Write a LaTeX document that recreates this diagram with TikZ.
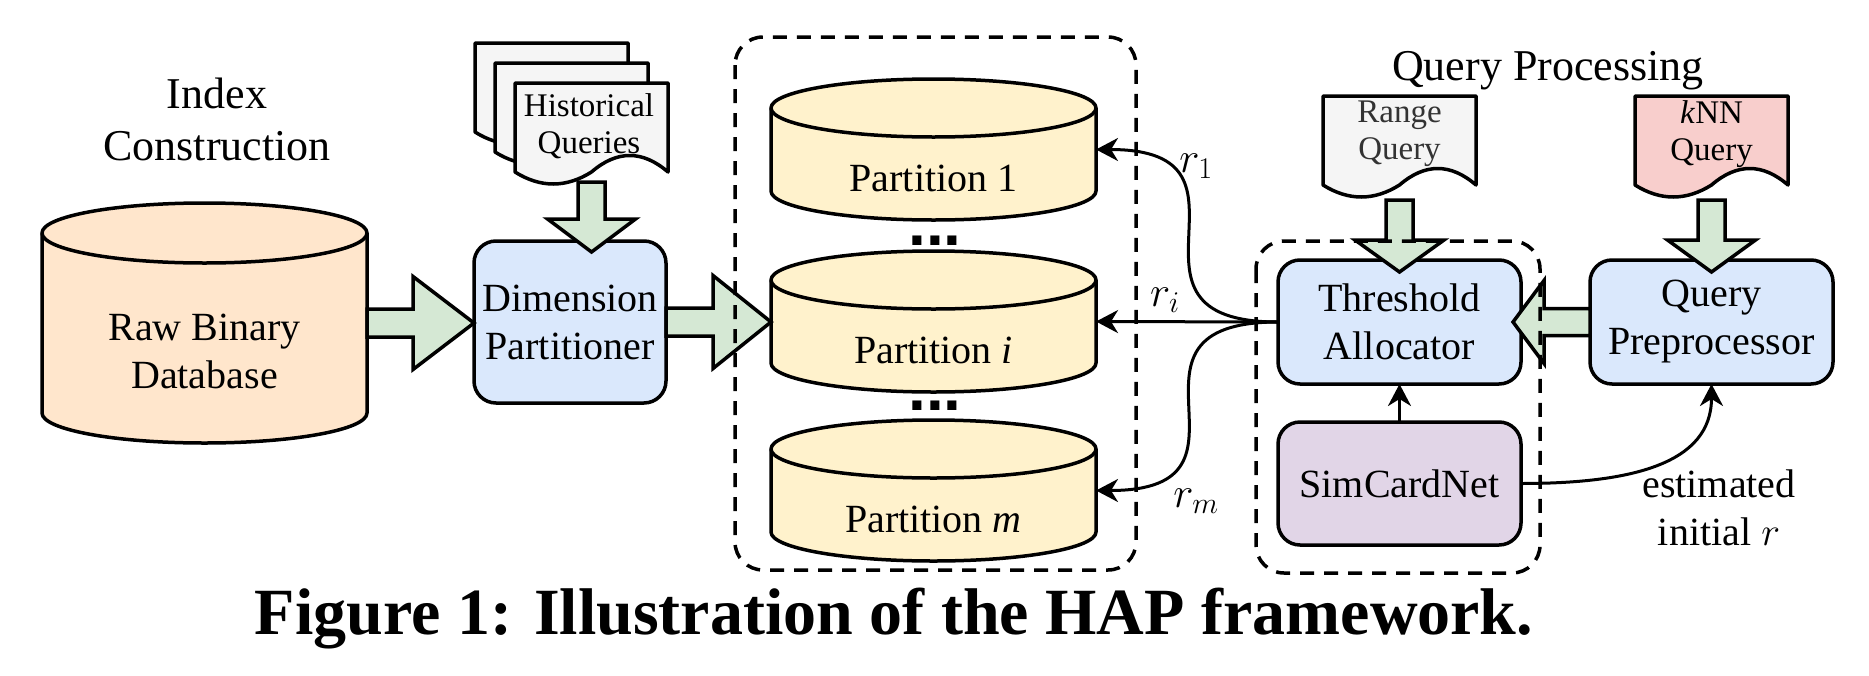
\RequirePackage{fix-cm}
\documentclass[tikz,border=0pt]{standalone}
\usepackage{fontspec}
\setmainfont{Liberation Serif}
\newfontfamily\dotfont{Liberation Sans}
\usetikzlibrary{calc,arrows.meta}
\definecolor{dbfill}{HTML}{FFE6CC}
\definecolor{partfill}{HTML}{FFF2CC}
\definecolor{bluefill}{HTML}{DAE8FC}
\definecolor{purplefill}{HTML}{E1D5E7}
\definecolor{greenfill}{HTML}{D5E8D4}
\definecolor{grayfill}{HTML}{F5F5F5}
\definecolor{pinkfill}{HTML}{F8CECC}
\definecolor{graytext}{HTML}{333333}
\tikzset{
  every node/.style={inner sep=0pt, outer sep=0pt},
  ln/.style={line width=3.5pt, draw=black, line join=round},
  t40/.style={font=\fontsize{40}{48}\selectfont, align=center},
  t44/.style={font=\fontsize{44}{52}\selectfont, align=center},
  t33/.style={font=\fontsize{33}{37}\selectfont, align=center},
  tmath/.style={font=\fontsize{43}{50}\selectfont},
  procbox/.style={ln, rounded corners=22pt, minimum width=243pt, minimum height=124pt, t40},
  fat/.style={ln, fill=greenfill, line join=miter},
  conn/.style={line width=3pt, draw=black, -{Stealth[length=22pt,width=23pt,inset=7pt]}},
  groupbox/.style={line width=3.5pt, draw=black, dash pattern=on 14pt off 10pt, rounded corners=28pt},
  docline/.style={ln},
}
% cylinder: name, cx, top, bottom, rx, ry, fill
\newcommand\cyl[7]{%
  \draw[ln, fill=#7] ({#2-#5},{#3+#6}) -- ({#2-#5},{#4-#6})
     arc[start angle=180,end angle=360,x radius=#5pt,y radius=#6pt]
     -- ({#2+#5},{#3+#6})
     arc[start angle=0,end angle=180,x radius=#5pt,y radius=#6pt] -- cycle;
  \draw[ln] ({#2-#5},{#3+#6}) arc[start angle=180,end angle=360,x radius=#5pt,y radius=#6pt];
  \node[minimum width={2*#5pt}, minimum height={(#4-#3)*1pt}] (#1) at (#2,{(#3+#4)/2}) {};
}
% document shape: x1, top, x2, side end, fill
\newcommand\docshape[5]{%
  \draw[docline, fill=#5] (#1,#2) -- (#3,#2) -- (#3,#4)
    .. controls ({#3-(#3-#1)/6},{#4-22}) and ({#3-(#3-#1)/3},{#4-22}) .. ({(#1+#3)/2},#4)
    .. controls ({(#1+#3)/2-(#3-#1)/6},{#4+16}) and ({#1+(#3-#1)/6},{#4+16}) .. (#1,#4) -- cycle;
}
% fat arrows: from, to, head length, head half width, shaft half width
\newcommand\fatR[5]{%
  \draw[fat] let \p1=(#1), \p2=(#2) in
    (\x1,\y1+#5pt) -- (\x2-#3pt,\y1+#5pt) -- (\x2-#3pt,\y1+#4pt) -- (\x2,\y1)
    -- (\x2-#3pt,\y1-#4pt) -- (\x2-#3pt,\y1-#5pt) -- (\x1,\y1-#5pt) -- cycle;
}
\newcommand\fatL[5]{%
  \draw[fat] let \p1=(#1), \p2=(#2) in
    (\x1,\y1+#5pt) -- (\x2+#3pt,\y1+#5pt) -- (\x2+#3pt,\y1+#4pt) -- (\x2,\y1)
    -- (\x2+#3pt,\y1-#4pt) -- (\x2+#3pt,\y1-#5pt) -- (\x1,\y1-#5pt) -- cycle;
}
\newcommand\fatD[5]{%
  \draw[fat] let \p1=(#1), \p2=(#2) in
    (\x1-#5pt,\y1) -- (\x1-#5pt,\y2+#3pt) -- (\x1-#4pt,\y2+#3pt) -- (\x1,\y2)
    -- (\x1+#4pt,\y2+#3pt) -- (\x1+#5pt,\y2+#3pt) -- (\x1+#5pt,\y1) -- cycle;
}
\begin{document}
\begin{tikzpicture}[x=1pt,y=-1pt]
\useasboundingbox (0,0) rectangle (1869,675);
\fill[white] (0,0) rectangle (1869,675);

% headings
\node[t44] (hdr1) at (217,119) {Index\\Construction};
\node[t44, anchor=base] (hdr2) at (1548,80) {Query Processing};

% raw database
\cyl{db}{204.5}{203}{443}{162.5}{30}{dbfill}
\node[t40] (db-t) at (204.5,351) {Raw Binary\\Database};

% historical queries stack
\docshape{475}{43}{628}{132}{grayfill}
\docshape{495}{63}{648}{152}{grayfill}
\docshape{515}{83}{668}{172}{grayfill}
\node[minimum width=153pt, minimum height=89pt] (hq) at (591.5,127.5) {};
\node[t33] (hq-t) at (589,126) {Historical\\Queries};

% dimension partitioner
\node[procbox, fill=bluefill, minimum width=192pt, minimum height=162pt] (dim) at (570,322) {Dimension\\Partitioner};

% partitions
\cyl{p1}{933.5}{79}{220}{162.5}{29}{partfill}
\node[t40] (p1-t) at (933.5,178.5) {Partition 1};
\cyl{pi}{933.5}{251}{392}{162.5}{29}{partfill}
\node[t40] (pi-t) at (933.5,350.5) {Partition \textit{i}};
\cyl{pm}{933.5}{420}{561}{162.5}{29}{partfill}
\node[t40] (pm-t) at (933.5,519.5) {Partition \textit{m}};
\node[font=\dotfont\bfseries\fontsize{64}{64}\selectfont] (dots1) at (935,241) {...};
\node[font=\dotfont\bfseries\fontsize{64}{64}\selectfont] (dots2) at (935,406) {...};

% query docs
\docshape{1323}{96}{1476}{185}{grayfill}
\node[minimum width=153pt, minimum height=89pt] (rq) at (1399.5,140.5) {};
\node[t33, text=graytext] (rq-t) at (1399.5,134) {Range\\Query};
\docshape{1635}{96}{1788}{185}{pinkfill}
\node[minimum width=153pt, minimum height=89pt] (kq) at (1711.5,140.5) {};
\node[t33] (kq-t) at (1711.5,134) {\textit{k}NN\\Query};

% processing boxes
\node[procbox, fill=bluefill] (ta) at (1399.5,322) {Threshold\\Allocator};
\node[procbox, fill=purplefill, minimum height=123pt] (sc) at (1399.5,483.5) {SimCardNet};
\node[procbox, fill=bluefill] (qp) at (1711.5,322) {Query\\Preprocessor};

% fat arrows
\fatR{db.east}{dim.west}{61}{46.5}{14}
\fatR{dim.east}{pi.west}{58}{46.5}{14}
\fatD{$(hq.south)+(0,10)$}{$(dim.north)+(0,11)$}{33}{44}{13.5}
\fatD{$(rq.south)+(0,15)$}{$(ta.north)+(0,12)$}{32}{44.5}{13.5}
\fatD{$(kq.south)+(0,15)$}{$(qp.north)+(0,12)$}{32}{44}{13.5}
\fatL{qp.west}{$(ta.east)+(-8,0)$}{31}{41.5}{13.5}

% connectors
\draw[conn] (ta.west) -- (pi.east);
\draw[conn] (ta.west) .. controls +(-182,0) and +(182,0) .. (p1.east);
\draw[conn] (ta.west) .. controls +(-182,0) and +(182,0) .. (pm.east);
\draw[conn] (sc.north) -- (ta.south);
\draw[conn] (sc.east) .. controls +(110,0) and +(0,80) .. (qp.south);

% labels
\node[tmath] (l1) at (1196,166) {$r_1$};
\node[tmath] (li) at (1165,300) {$r_i$};
\node[tmath] (lm) at (1196,501) {$r_m$};
\node[t40] (est) at (1719,507.5) {estimated\\initial $r$};

% group boxes
\draw[groupbox] (735,37) rectangle (1136,570);
\draw[groupbox] (1256,241) rectangle (1540,573);

% caption
\node[font=\bfseries\fontsize{66}{74}\selectfont, anchor=base] (cap) at (894,634) {Figure 1: Illustration of the HAP framework.};
\end{tikzpicture}
\end{document}
